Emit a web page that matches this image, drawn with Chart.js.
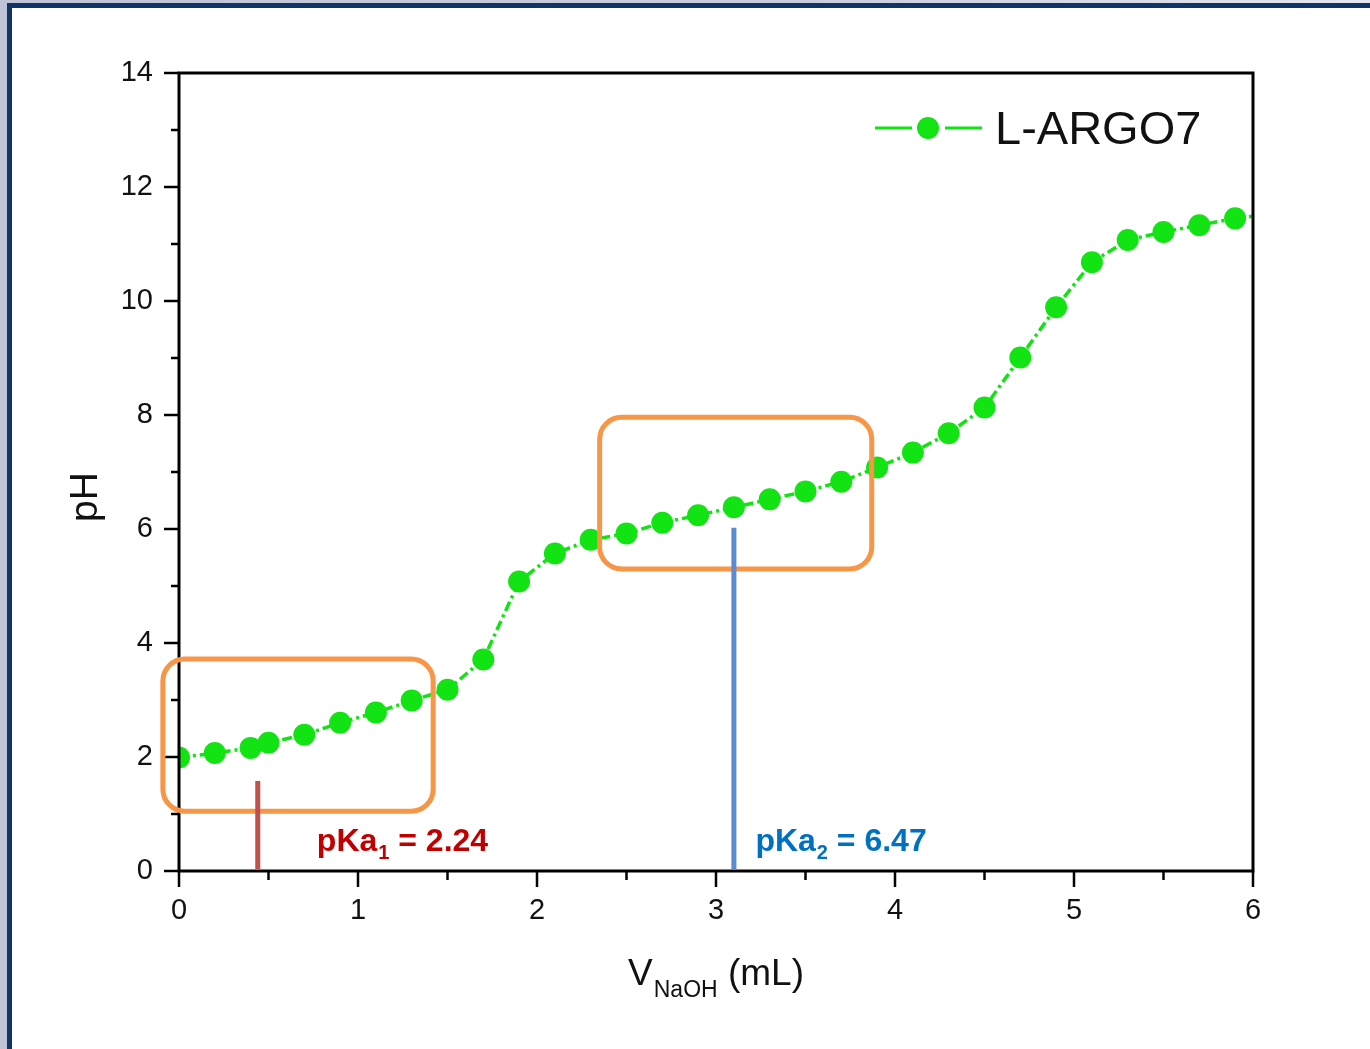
<!DOCTYPE html>
<html>
<head>
<meta charset="utf-8">
<title>L-ARGO7 titration curve</title>
<script src="https://cdn.jsdelivr.net/npm/chart.js@4.4.1/dist/chart.umd.min.js"></script>
<style>
  html, body { margin: 0; padding: 0; }
  body {
    width: 1370px; height: 1049px; position: relative; overflow: hidden;
    background: linear-gradient(90deg, #bfc3d5 0%, #c9cddd 60%, #e4e7f0 100%);
  }
  #frame {
    position: absolute; left: 7px; top: 3px; right: -20px; bottom: -20px;
    background: #fff;
    border-left: 5px solid #0e3468; border-top: 5px solid #0e3468;
  }
  #wrap { position: absolute; left: 0; top: 0; width: 1370px; height: 1049px; }
</style>
</head>
<body>
<div id="frame"></div>
<div id="wrap"><canvas id="chart"></canvas></div>
<script>
// NaOH volume added (mL) and measured pH
const volume = [0, 0.2, 0.4, 0.5, 0.7, 0.9, 1.1, 1.3, 1.5, 1.7, 1.9, 2.1, 2.3, 2.5, 2.7, 2.9,
                3.1, 3.3, 3.5, 3.7, 3.9, 4.1, 4.3, 4.5, 4.7, 4.9, 5.1, 5.3, 5.5, 5.7, 5.9, 6.1];
const pH = [1.99, 2.07, 2.16, 2.25, 2.39, 2.60, 2.78, 2.99, 3.18, 3.71, 5.08, 5.57, 5.81, 5.92, 6.11, 6.24,
            6.38, 6.52, 6.66, 6.83, 7.08, 7.34, 7.68, 8.13, 9.01, 9.89, 10.68, 11.07, 11.21, 11.33, 11.45, 11.52];
const seriesName = 'L-ARGO7';

const xTickValues = [0, 1, 2, 3, 4, 5, 6];
const yTickValues = [0, 2, 4, 6, 8, 10, 12, 14];

// pKa read-outs and the volumes they point at
const pkaValues = [2.24, 6.47];
const pkaVolume = [0.44, 3.1];
const pkaMarkerTop = [1.58, 6.02];

// buffer regions (volume range, pH range)
const bufferVolume = [[-0.09, 1.42], [2.35, 3.87]];
const bufferPH = [[1.05, 3.72], [5.30, 7.96]];

const GREEN = '#12e312';
const FONT = '"Liberation Sans", Arial, sans-serif';
const pkaStyles = [
  { line: '#c0504d', text: '#c00000', labelX: 0.77 },
  { line: '#5b8bd1', text: '#0070c0', labelX: 3.22 }
];

const points = volume.map((v, i) => ({ x: v, y: pH[i] }));

function seg(ctx, x1, y1, x2, y2) {
  ctx.beginPath();
  ctx.moveTo(x1, y1);
  ctx.lineTo(x2, y2);
  ctx.stroke();
}

const decorations = {
  id: 'decorations',
  afterDatasetsDraw(chart) {
    const { ctx, chartArea: a, scales: { x, y } } = chart;
    ctx.save();

    // plot frame + outward ticks
    ctx.strokeStyle = '#000';
    ctx.lineWidth = 3;
    ctx.strokeRect(a.left, a.top, a.right - a.left, a.bottom - a.top);
    ctx.lineWidth = 2.5;
    for (let v = x.min; v <= x.max; v += 0.5) {
      const px = x.getPixelForValue(v);
      seg(ctx, px, a.bottom, px, a.bottom + (Number.isInteger(v) ? 16 : 9));
    }
    for (let v = y.min; v <= y.max; v += 1) {
      const py = y.getPixelForValue(v);
      seg(ctx, a.left - (v % 2 === 0 ? 15 : 8), py, a.left, py);
    }

    // buffer region boxes
    ctx.strokeStyle = '#f79646';
    ctx.lineWidth = 5;
    bufferVolume.forEach((r, i) => {
      const x1 = x.getPixelForValue(r[0]), x2 = x.getPixelForValue(r[1]);
      const y1 = y.getPixelForValue(bufferPH[i][1]), y2 = y.getPixelForValue(bufferPH[i][0]);
      ctx.beginPath();
      ctx.roundRect(x1, y1, x2 - x1, y2 - y1, 22);
      ctx.stroke();
    });

    // pKa markers and labels
    pkaValues.forEach((pk, i) => {
      const st = pkaStyles[i];
      const px = x.getPixelForValue(pkaVolume[i]);
      ctx.strokeStyle = st.line;
      ctx.lineWidth = 5;
      seg(ctx, px, y.getPixelForValue(pkaMarkerTop[i]), px, a.bottom - 2);

      let tx = x.getPixelForValue(st.labelX);
      const base = y.getPixelForValue(0.35);
      ctx.fillStyle = st.text;
      ctx.textBaseline = 'alphabetic';
      ctx.textAlign = 'left';
      ctx.font = 'bold 32px ' + FONT;
      ctx.fillText('pKa', tx, base);
      tx += ctx.measureText('pKa').width + 1;
      ctx.font = 'bold 20px ' + FONT;
      ctx.fillText(String(i + 1), tx, base + 8);
      tx += ctx.measureText(String(i + 1)).width;
      ctx.font = 'bold 32px ' + FONT;
      ctx.fillText(' = ' + pk.toFixed(2), tx, base);
    });

    // legend: line - marker - line
    const ly = a.top + 55;
    const lx = a.right - 378;
    ctx.strokeStyle = GREEN;
    ctx.lineWidth = 3;
    seg(ctx, lx, ly, lx + 37, ly);
    seg(ctx, lx + 70, ly, lx + 107, ly);
    ctx.fillStyle = GREEN;
    ctx.beginPath();
    ctx.arc(lx + 53, ly, 11, 0, Math.PI * 2);
    ctx.fill();
    ctx.fillStyle = '#111';
    ctx.font = '47px ' + FONT;
    ctx.fillText(seriesName, lx + 120, ly + 16);

    // axis titles
    ctx.font = '39px ' + FONT;
    ctx.save();
    ctx.translate(a.left - 93, (a.top + a.bottom) / 2 + 25);
    ctx.rotate(-Math.PI / 2);
    ctx.textAlign = 'center';
    ctx.textBaseline = 'middle';
    ctx.fillText('pH', 0, 0);
    ctx.restore();

    const big = '37px ' + FONT, small = '23px ' + FONT;
    ctx.font = big;
    const wV = ctx.measureText('V').width, wU = ctx.measureText(' (mL)').width;
    ctx.font = small;
    const wS = ctx.measureText('NaOH').width;
    let t = (a.left + a.right) / 2 - (wV + wS + wU + 1) / 2;
    const tb = a.bottom + 114;
    ctx.textAlign = 'left';
    ctx.textBaseline = 'alphabetic';
    ctx.font = big;
    ctx.fillText('V', t, tb);
    t += wV + 1;
    ctx.font = small;
    ctx.fillText('NaOH', t, tb + 12);
    t += wS;
    ctx.font = big;
    ctx.fillText(' (mL)', t, tb);

    ctx.restore();
  }
};

new Chart(document.getElementById('chart'), {
  type: 'scatter',
  data: {
    datasets: [{
      label: seriesName,
      data: points,
      showLine: true,
      borderColor: GREEN,
      borderWidth: 3.5,
      borderDash: [10, 4, 3, 4],
      backgroundColor: GREEN,
      pointBackgroundColor: GREEN,
      pointBorderWidth: 0,
      pointRadius: 11,
      tension: 0
    }]
  },
  options: {
    responsive: true,
    maintainAspectRatio: false,
    animation: false,
    layout: { padding: { left: 0, top: 73, right: 117, bottom: 0 } },
    plugins: { legend: { display: false }, tooltip: { enabled: false } },
    scales: {
      x: {
        type: 'linear', min: 0, max: 6,
        afterFit: s => { s.height = 178; },
        afterBuildTicks: s => { s.ticks = xTickValues.map(v => ({ value: v })); },
        grid: { display: false, drawTicks: false, tickLength: 0 },
        border: { display: false },
        ticks: { font: { family: FONT, size: 29 }, color: '#111', padding: 23, maxRotation: 0 }
      },
      y: {
        type: 'linear', min: 0, max: 14,
        afterFit: s => { s.width = 179; },
        afterBuildTicks: s => { s.ticks = yTickValues.map(v => ({ value: v })); },
        grid: { display: false, drawTicks: false, tickLength: 0 },
        border: { display: false },
        ticks: { font: { family: FONT, size: 29 }, color: '#111', padding: 26 }
      }
    }
  },
  plugins: [decorations]
});
</script>
</body>
</html>
